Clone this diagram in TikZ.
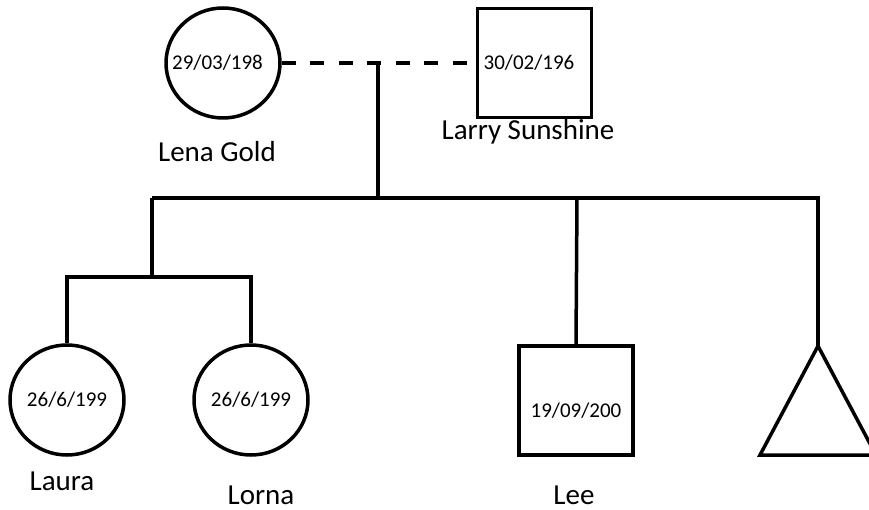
\documentclass[tikz,border=0pt]{standalone}
\usepackage{fontspec}
\setmainfont{Carlito}
\usetikzlibrary{shapes.geometric}
\begin{document}
\begin{tikzpicture}[x=1pt,y=-1pt,
  lw/.style={line width=3.5pt},
  female/.style={ellipse,draw,lw,minimum width=114pt,minimum height=110pt,inner sep=0pt,font=\fontsize{21}{23}\selectfont},
  male/.style={rectangle,draw,lw,minimum width=114pt,minimum height=109pt,inner sep=0pt,font=\fontsize{21}{23}\selectfont},
  pname/.style={font=\fontsize{29}{33}\selectfont,inner sep=0pt},
  link/.style={lw,line join=miter}]
\useasboundingbox (0,0) rectangle (869,510);
\begin{scope}
\clip (0,0) rectangle (869,510);
% persons
\node[female] (lena) at (223,63) {\hspace*{-11pt}29/03/198};
\node[male] (larry) at (534.5,63) {\hspace*{-11pt}30/02/196};
\node[female] (laura) at (67,400) {26/6/199};
\node[female] (lorna) at (251,400) {26/6/199};
\node[male,text height=33pt,text depth=0pt] (lee) at (576,400.5) {19/09/200};
\coordinate (tri) at (818,346);
\draw[lw,line join=miter] (tri) -- (876,455) -- (760,455) -- cycle;
% names
\node[pname] (nlena) at (217,152) {Lena Gold};
\node[pname] (nlarry) at (528,132) {Larry Sunshine};
\node[pname] (nlaura) at (62,481) {Laura};
\node[pname] (nlorna) at (261,495) {Lorna};
\node[pname] (nlee) at (574,495) {Lee};
% connectors
\draw[lw,dash pattern=on 14pt off 14.5pt] (lena.east) -- (larry.west);
\coordinate (m) at (378,63);
\coordinate (s) at (378,198);
\coordinate (sl) at (152,198);
\coordinate (sr) at (818,198);
\coordinate (sm) at (577,198);
\draw[link] (m) -- (s);
\draw[link] (sl) -- (sr) -- (tri);
\draw[link] (sm) -- (lee.north);
\coordinate (tw) at (152,279);
\draw[link] (sl) -- (tw);
\draw[link] (laura.north) -- ++(0,-66) -| (lorna.north);
\end{scope}
\end{tikzpicture}
\end{document}
